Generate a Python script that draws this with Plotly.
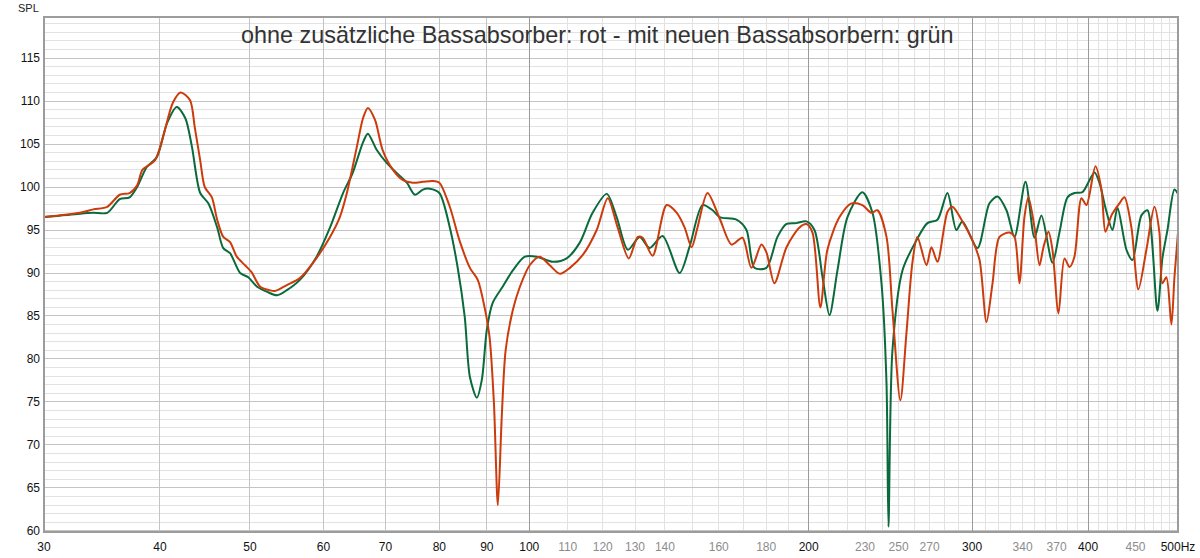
import plotly.graph_objects as go
import math

# ---------------- data ----------------
red_freq = [30, 32.8, 33.9, 35.1, 36.2, 37.1, 37.8, 38.3, 39.5, 40.3, 41.3, 42.1, 43.1, 43.6, 44.2,
            44.7, 45.5, 46.1, 46.8, 47.6, 48.4, 49.4, 50.2, 51.3, 52.5, 53.2, 54.8, 56.6, 58.5, 61.0,
            62.5, 63.6, 65.2, 66.2, 67.0, 68.2, 69.5, 71.3, 73.1, 74.9, 76.8, 78.7, 80, 82.1, 84.1,
            86.3, 88.0, 89.5, 90.6, 91.6, 92.5, 93.4, 94.3, 96.0, 97.7, 100.1, 102.6, 105.2, 107.9,
            110.6, 114.2, 118.2, 121.5, 124.5, 128.0, 130.9, 132.5, 135.8, 140.6, 144.2, 147.0, 149.6,
            151.8, 155.6, 160.3, 165.2, 169.7, 173.5, 177.9, 180.1, 183.7, 189.3, 195.5, 198.9, 201.9,
            205.9, 209.5, 215.9, 222.4, 228.5, 233.7, 237.2, 242.6, 246.2, 251.1, 254.9, 258.7, 261.9,
            267.9, 271.2, 275.3, 282.2, 285.7, 292.9, 300.3, 305.6, 310.9, 315.6, 321.1, 329.2, 333.3,
            337.4, 341.6, 345.0, 350.2, 354.6, 358.1, 362.6, 366.2, 371.7, 377.3, 382.0, 386.7, 393.5,
            398.4, 407.4, 413.5, 417.6, 423.9, 432.4, 437.8, 445.4, 453.2, 462.3, 471.6, 477.5, 481.0,
            485.8, 491.9, 495.6, 500]
red_spl = [96.5, 97.0, 97.4, 97.7, 99.1, 99.3, 100.2, 102.0, 103.1, 105.8, 109.8, 111.0, 110.1, 107.0, 103.1,
           100.0, 98.8, 96.2, 94.2, 93.6, 91.9, 90.9, 90.1, 88.4, 88.0, 87.9, 88.6, 89.4, 91.2, 94.2,
           96.5, 99.3, 104.7, 108.0, 109.2, 107.8, 104.3, 102.0, 100.8, 100.5, 100.6, 100.7, 100.5, 97.7, 93.8,
           90.6, 89.2, 86.0, 82.6, 74.9, 63.0, 73.3, 81.0, 85.7, 88.4, 90.9, 91.9, 90.9, 89.9,
           90.6, 92.1, 95.0, 98.7, 95.3, 91.7, 94.2, 94.1, 92.0, 97.9, 97.0, 95.3, 93.0,
           95.3, 99.3, 96.4, 93.3, 94.1, 90.6, 93.3, 92.4, 88.8, 93.0, 95.3, 95.7, 94.7,
           86.0, 92.7, 96.5, 98.1, 97.9, 97.0, 97.3, 94.2, 85.7, 75.2, 83.0, 91.2, 94.2,
           90.9, 93.0, 91.3, 97.1, 97.7, 96.0, 93.8, 91.5, 84.3, 88.8, 94.2, 94.7, 94.2,
           88.8, 96.5, 98.8, 95.3, 90.9, 93.0, 94.8, 92.7, 85.3, 91.7, 90.7, 91.9, 98.7,
           97.9, 102.4, 99.7, 94.8, 96.7, 98.1, 98.8, 95.3, 88.1, 92.7, 97.7, 94.7, 88.8,
           89.5, 84.0, 89.5, 94.7]

green_freq = [30, 32.8, 33.9, 35.1, 36.2, 37.1, 37.8, 38.7, 39.7, 40.7, 41.7, 42.6, 43.3, 44.2, 45.1,
              46.1, 46.8, 47.6, 48.8, 49.8, 50.9, 52.2, 53.5, 54.8, 56.6, 59.0, 61.0, 63.0, 64.5,
              66.2, 67.0, 68.5, 70.2, 72.0, 73.8, 75.3, 76.8, 78.1, 80, 82.1, 83.7, 85.2, 86.3,
              87.8, 88.9, 90.0, 91.3, 93.6, 96.0, 98.9, 101.9, 106.0, 109.7, 113.3, 117.0, 121.2,
              124.2, 127.7, 131.5, 134.8, 139.2, 145.2, 148.8, 153.7, 157.6, 160.3, 167.2, 171.4,
              174.8, 180.1, 185.1, 189.3, 194.0, 198.9, 202.9, 207.0, 210.6, 214.8, 220.2, 228.5,
              234.3, 239.6, 242.6, 243.8, 246.2, 252.4, 261.3, 268.5, 275.3, 282.2, 288.5, 292.9,
              304.0, 313.2, 319.5, 326.7, 333.3, 342.5, 350.2, 356.3, 366.2, 372.6, 380.1, 386.7,
              394.5, 406.4, 411.5, 417.6, 425.0, 430.3, 440.0, 446.6, 456.6, 463.5, 475.1, 481.0,
              487.1, 495.6, 500]
green_spl = [96.5, 96.9, 97.0, 97.0, 98.6, 98.8, 100.0, 102.3, 103.5, 107.4, 109.3, 108.0, 104.7, 99.3, 98.1,
             95.3, 92.9, 92.3, 90.0, 89.5, 88.4, 87.8, 87.4, 88.0, 89.2, 91.9, 95.3, 99.3, 101.6,
             105.2, 106.2, 104.3, 102.8, 101.6, 100.5, 99.1, 99.7, 99.8, 99.3, 95.3, 90.7, 84.9, 77.9,
             75.5, 77.6, 83.4, 86.5, 88.4, 90.3, 91.9, 91.9, 91.3, 91.7, 93.5, 97.0, 99.2,
             96.5, 92.7, 94.2, 92.9, 94.3, 90.0, 93.0, 97.9, 97.3, 96.5, 96.2, 95.0,
             90.6, 90.6, 94.2, 95.7, 95.8, 96.0, 95.0, 89.5, 85.1, 90.3, 96.5, 99.4,
             97.0, 88.8, 77.2, 60.5, 81.0, 90.3, 93.8, 95.8, 96.2, 99.3, 95.0, 96.0,
             92.9, 98.1, 98.9, 97.3, 94.2, 100.6, 94.1, 96.7, 91.2, 94.7, 98.8, 99.3,
             99.4, 101.7, 100.5, 97.6, 95.0, 97.6, 92.7, 91.5, 96.7, 97.3, 85.6, 91.7,
             95.0, 99.7, 99.2]

major_ticks = [30, 40, 50, 60, 70, 80, 90, 100, 200, 300, 400, 500]
major_labels = ["30", "40", "50", "60", "70", "80", "90", "100", "200", "300", "400", "500Hz"]
minor_label_ticks = [110, 120, 130, 140, 160, 180, 230, 250, 270, 340, 370, 450]
minor_grid = [f for f in range(110, 500, 10) if f % 100 != 0]
dark_grid = [100, 200, 300, 400]
y_ticks = list(range(60, 120, 5))

title_text = "ohne zusätzliche Bassabsorber: rot - mit neuen Bassabsorbern: grün"

RED = "#cc3b0c"
GREEN = "#0a6a3b"

xr = [math.log10(30), math.log10(500)]

fig = go.Figure()
fig.add_trace(go.Scatter(x=green_freq, y=green_spl, mode="lines",
                         line=dict(color=GREEN, width=2, shape="spline", smoothing=0.8),
                         showlegend=False, hoverinfo="skip"))
fig.add_trace(go.Scatter(x=red_freq, y=red_spl, mode="lines",
                         line=dict(color=RED, width=2, shape="spline", smoothing=0.8),
                         showlegend=False, hoverinfo="skip"))
# invisible helpers so the overlay axes are drawn
fig.add_trace(go.Scatter(x=[110], y=[None], xaxis="x2", mode="markers",
                         marker=dict(opacity=0), showlegend=False, hoverinfo="skip"))
fig.add_trace(go.Scatter(x=[110], y=[None], xaxis="x3", mode="markers",
                         marker=dict(opacity=0), showlegend=False, hoverinfo="skip"))

FONT = "Liberation Sans, Arial, sans-serif"

fig.update_layout(
    width=1200, height=558,
    margin=dict(l=44, r=22, t=17, b=26, autoexpand=False),
    paper_bgcolor="white", plot_bgcolor="white",
    font=dict(family=FONT, size=12, color="#222"),
    xaxis=dict(type="log", range=xr, tickmode="array", tickvals=major_ticks, ticktext=major_labels,
               showgrid=True, gridcolor="#c4c4c4", gridwidth=1, zeroline=False, automargin=False,
               ticks="", ticklabelstandoff=6, tickfont=dict(family=FONT, size=12, color="#111"),
               minor=dict(tickmode="array", tickvals=minor_grid, showgrid=True,
                          gridcolor="#e2e2e2", gridwidth=1, ticks=""),
               showline=False, fixedrange=True),
    xaxis2=dict(type="log", range=xr, overlaying="x", anchor="y", side="bottom", automargin=False,
                tickmode="array", tickvals=minor_label_ticks,
                ticktext=[str(v) for v in minor_label_ticks], ticklabelstandoff=6,
                showgrid=False, zeroline=False, ticks="",
                tickfont=dict(family=FONT, size=12, color="#8c8c8c"), showline=False),
    xaxis3=dict(type="log", range=xr, overlaying="x", anchor="y", side="bottom", automargin=False,
                tickmode="array", tickvals=dark_grid, showticklabels=False,
                showgrid=True, gridcolor="#9a9a9a", gridwidth=1, zeroline=False, ticks="",
                showline=False),
    yaxis=dict(range=[59.88, 119.77], tickmode="array", tickvals=y_ticks, automargin=False,
               showgrid=True, gridcolor="#c4c4c4", gridwidth=1, zeroline=False, ticks="",
               ticklabelstandoff=3, tickfont=dict(family=FONT, size=12, color="#111"),
               minor=dict(dtick=1, tick0=60, showgrid=True, gridcolor="#e2e2e2", gridwidth=1, ticks=""),
               showline=False, fixedrange=True),
    annotations=[
        dict(text=title_text, xref="paper", yref="paper", x=0.4877, y=0.965,
             xanchor="center", yanchor="middle", showarrow=False,
             font=dict(family=FONT, size=23.4, color="#333")),
        dict(text="SPL", xref="paper", yref="paper", x=-0.0141, y=1.0,
             xanchor="center", yanchor="bottom", yshift=1, showarrow=False,
             font=dict(family=FONT, size=11, color="#222")),
    ],
    shapes=[
        dict(type="rect", xref="paper", yref="paper", x0=0, x1=1, y0=0, y1=1,
             line=dict(color="#9c9c9c", width=2), layer="above"),
    ],
)

fig.write_html("out.html", config=dict(displayModeBar=False),
               post_script="document.body.style.margin='0';document.body.style.overflow='hidden';")
